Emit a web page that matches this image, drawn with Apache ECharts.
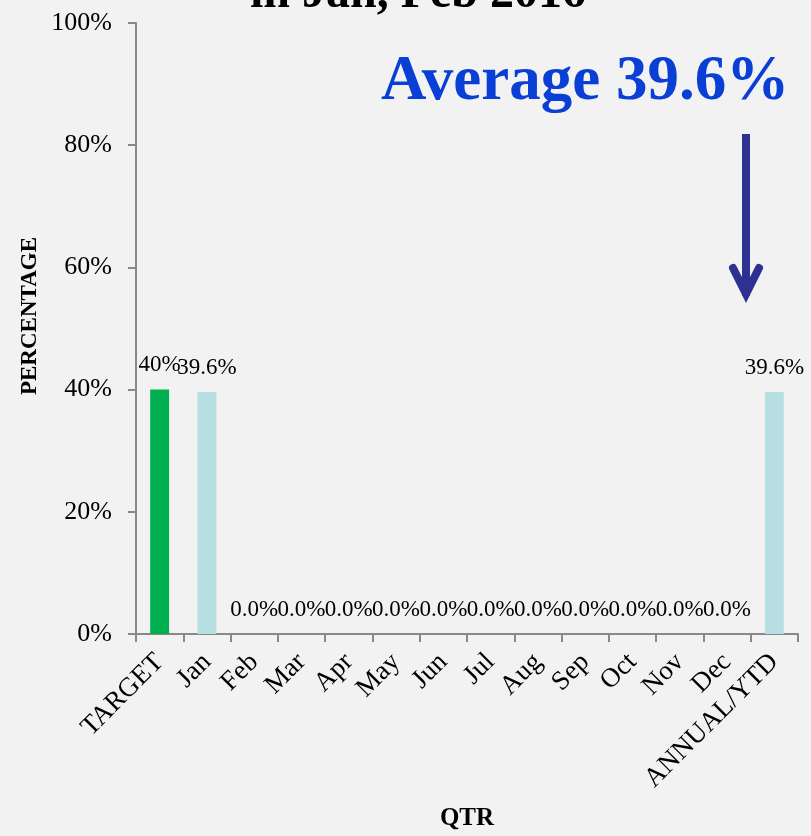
<!DOCTYPE html>
<html>
<head>
<meta charset="utf-8">
<script src="https://cdn.jsdelivr.net/npm/echarts@6/dist/echarts.min.js"></script>
<style>
html,body{margin:0;padding:0;background:#f2f2f2;}
#chart{width:811px;height:836px;}
</style>
</head>
<body>
<div id="chart"></div>
<script>
var categories = ['TARGET','Jan','Feb','Mar','Apr','May','Jun','Jul','Aug','Sep','Oct','Nov','Dec','ANNUAL/YTD'];
var values = [40, 39.6, 0, 0, 0, 0, 0, 0, 0, 0, 0, 0, 0, 39.6];
var barColors = ['#00b050','#b7dfe2','#b7dfe2','#b7dfe2','#b7dfe2','#b7dfe2','#b7dfe2','#b7dfe2','#b7dfe2','#b7dfe2','#b7dfe2','#b7dfe2','#b7dfe2','#b7dfe2'];
var yTicks = [0, 20, 40, 60, 80, 100];
var titleText = 'in Jan, Feb 2016';
var averageText = 'Average 39.6%';
var yAxisName = 'PERCENTAGE';
var xAxisName = 'QTR';

var serif = '"Liberation Serif", "Times New Roman", serif';
var chart = echarts.init(document.getElementById('chart'));
chart.setOption({
  backgroundColor: '#f2f2f2',
  animation: false,
  title: {
    text: titleText,
    left: 245,
    top: -34,
    textStyle: {fontFamily: serif, fontSize: 48, fontWeight: 'bold', color: '#000'}
  },
  grid: {left: 136, right: 13, top: 23, bottom: 196, containLabel: false},
  xAxis: {
    type: 'category',
    data: categories,
    name: xAxisName,
    nameLocation: 'middle',
    nameGap: 172,
    nameTextStyle: {fontFamily: serif, fontSize: 25, fontWeight: 'bold', color: '#000'},
    axisLine: {lineStyle: {color: '#888', width: 2}},
    axisTick: {show: true, length: 8, alignWithLabel: false, lineStyle: {color: '#888', width: 2}},
    axisLabel: {rotate: 45, fontFamily: serif, fontSize: 27, color: '#000', margin: 24, interval: 0}
  },
  yAxis: {
    type: 'value',
    min: 0,
    max: 100,
    interval: 20,
    splitLine: {show: false},
    axisLine: {show: true, lineStyle: {color: '#888', width: 2}},
    axisTick: {show: true, length: 8, lineStyle: {color: '#888', width: 2}},
    axisLabel: {
      fontFamily: serif, fontSize: 26, color: '#000', margin: 24,
      formatter: function (v) { return yTicks.indexOf(v) >= 0 ? v + '%' : ''; }
    }
  },
  series: [{
    type: 'bar',
    data: values.map(function (v, i) { return {value: v, itemStyle: {color: barColors[i]}}; }),
    barWidth: '40%',
    label: {
      show: true,
      position: 'top',
      distance: 13,
      fontFamily: serif,
      fontSize: 23,
      color: '#000',
      formatter: function (p) { return p.dataIndex === 0 ? p.value + '%' : p.value.toFixed(1) + '%'; }
    }
  }],
  graphic: [
    {
      type: 'text',
      x: 30,
      y: 316,
      rotation: Math.PI / 2,
      style: {text: yAxisName, fontFamily: serif, fontSize: 23, fontWeight: 'bold', fill: '#000', align: 'center', verticalAlign: 'middle'}
    },
    {
      type: 'text',
      left: 381,
      top: 51,
      style: {text: averageText, fontFamily: serif, fontSize: 63, fontWeight: 'bold', fill: '#0a3fd6'}
    },
    {
      type: 'line',
      shape: {x1: 746, y1: 134, x2: 746, y2: 296},
      style: {stroke: '#2e3192', lineWidth: 8}
    },
    {
      type: 'polyline',
      shape: {points: [[733, 268], [746, 294], [759, 268]]},
      style: {stroke: '#2e3192', lineWidth: 8, fill: null, lineCap: 'round', lineJoin: 'miter'}
    }
  ]
});
</script>
</body>
</html>
